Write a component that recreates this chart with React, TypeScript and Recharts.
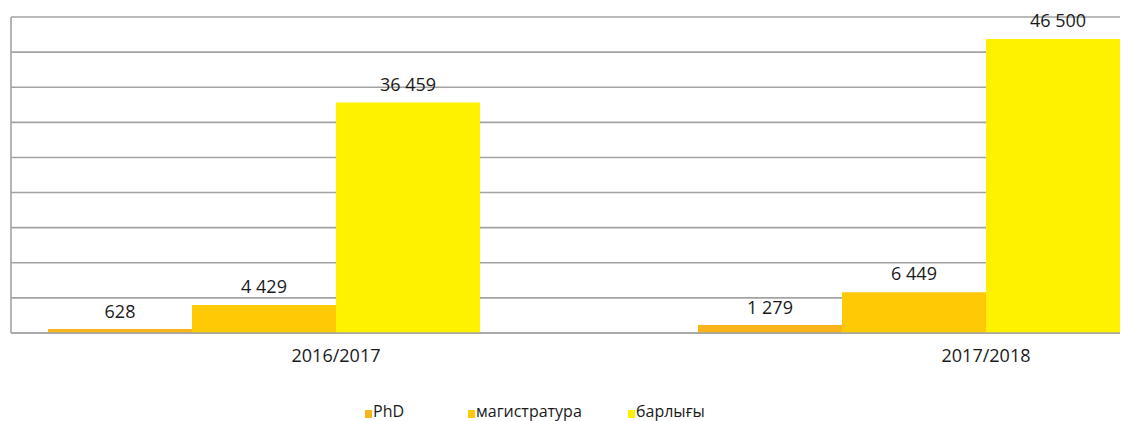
import React from "react";
import { BarChart, Bar, XAxis, YAxis, CartesianGrid, LabelList, Legend } from "recharts";

const categories = ["2016/2017", "2017/2018"];
const phd = [628, 1279];
const magistratura = [4429, 6449];
const barlygy = [36459, 46500];
const spacer = [0, 0];

const seriesNames = ["PhD", "магистратура", "барлығы"];
const seriesColors = ["#F9B41A", "#FFC905", "#FFF200"];

const data = categories.map((c, i) => ({
  name: c,
  phd: phd[i],
  mag: magistratura[i],
  bar: barlygy[i],
  sp: spacer[i],
}));

const yTicks = Array.from({ length: 10 }, (_, i) => (i * 50000) / 9);

const fmt = (v: any) => {
  const n = Number(v);
  if (!n) return "";
  return String(n).replace(/\B(?=(\d{3})+(?!\d))/g, " ");
};

const FONT = "'Open Sans', 'Noto Sans', sans-serif";

const legendX = [357, 460, 620];

const CustomLegend = () => (
  <div style={{ position: "relative", width: 1120, height: 24, fontFamily: FONT }}>
    {seriesNames.map((n, i) => (
      <div
        key={n}
        style={{
          position: "absolute",
          left: legendX[i],
          top: 0,
          display: "flex",
          alignItems: "center",
          fontSize: 16,
          color: "#1a1a1a",
          whiteSpace: "nowrap",
        }}
      >
        <span style={{ display: "inline-block", width: 7, height: 8, background: seriesColors[i], marginRight: 1, marginTop: 5 }} />
        {n}
      </div>
    ))}
  </div>
);

const labelStyle = { fontSize: 18, fill: "#1a1a1a", fontFamily: FONT };

const EmptyTick = () => <g />;

export default function App() {
  return (
    <div style={{ width: 1120, height: 413, overflow: "hidden", position: "relative" }}>
      <BarChart
        width={1303}
        height={413}
        data={data}
        margin={{ top: 9, right: 0, left: 2, bottom: 0 }}
        barCategoryGap={37}
        barGap={0}
        style={{ fontFamily: FONT }}
      >
        <CartesianGrid vertical={false} stroke="#A3A3A3" strokeWidth={1.6} />
        <YAxis
          width={1}
          domain={[0, 50000]}
          ticks={yTicks}
          tick={<EmptyTick />}
          tickLine={false}
          axisLine={{ stroke: "#A3A3A3", strokeWidth: 1.6 }}
        />
        <XAxis
          dataKey="name"
          height={64}
          tickLine={false}
          tickMargin={10}
          axisLine={{ stroke: "#A3A3A3", strokeWidth: 1.6 }}
          tick={{ fontSize: 18, fill: "#1a1a1a", fontFamily: FONT }}
        />
        <Legend
          content={<CustomLegend />}
          wrapperStyle={{ position: "absolute", left: 0, top: 392, width: 1120 }}
        />
        <Bar dataKey="phd" name={seriesNames[0]} fill={seriesColors[0]} isAnimationActive={false}>
          <LabelList dataKey="phd" position="top" offset={11} formatter={fmt} style={labelStyle} />
        </Bar>
        <Bar dataKey="mag" name={seriesNames[1]} fill={seriesColors[1]} isAnimationActive={false}>
          <LabelList dataKey="mag" position="top" offset={12} formatter={fmt} style={labelStyle} />
        </Bar>
        <Bar dataKey="bar" name={seriesNames[2]} fill={seriesColors[2]} isAnimationActive={false}>
          <LabelList dataKey="bar" position="top" offset={12} formatter={fmt} style={labelStyle} />
        </Bar>
        <Bar dataKey="sp" fill="transparent" legendType="none" isAnimationActive={false} />
      </BarChart>
    </div>
  );
}
